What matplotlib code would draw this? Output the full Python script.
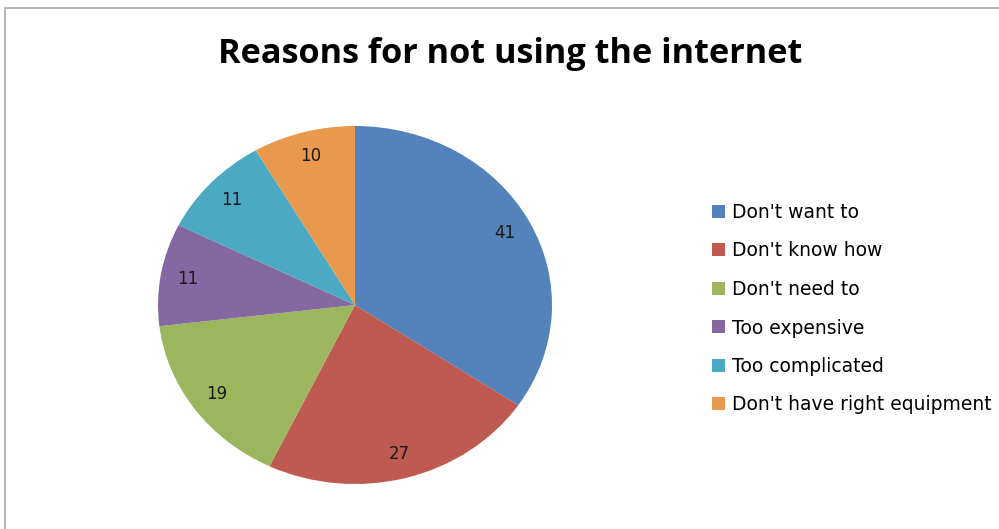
import matplotlib
matplotlib.use("Agg")
import matplotlib.pyplot as plt
from matplotlib.patches import Rectangle, Patch

categories = ["Don't want to", "Don't know how", "Don't need to",
              "Too expensive", "Too complicated", "Don't have right equipment"]
values = [41, 27, 19, 11, 11, 10]
colors = ["#5383BA", "#BE5A52", "#9CB65D", "#8468A1", "#4BA9C3", "#E8994D"]
title = "Reasons for not using the internet"

W, H = 999, 529
fig = plt.figure(figsize=(W / 100, H / 100), dpi=100)
fig.patch.set_facecolor("white")

# chart border (top and left visible)
fig.patches.append(Rectangle((5 / W, -0.1), 1.2, (H - 8) / H + 0.1,
                             transform=fig.transFigure, fill=False,
                             edgecolor="#A8A8A8", linewidth=1.2))

cx, cy, rx, ry = 355, 305, 197, 179
ax = fig.add_axes([(cx - rx) / W, (H - cy - ry) / H, 2 * rx / W, 2 * ry / H])
wedges, texts, autotexts = ax.pie(
    values, colors=colors, startangle=90, counterclock=False,
    autopct=lambda p: f"{round(p * sum(values) / 100):.0f}",
    pctdistance=0.86, wedgeprops=dict(linewidth=0),
    textprops=dict(fontsize=12, color="#1a1a1a", family="DejaVu Sans"))
ax.set_aspect("auto")
ax.set_xlim(-1, 1)
ax.set_ylim(-1, 1)
ax.axis("off")

fig.text(510 / W, 1 - 63 / H, title, ha="center", va="baseline",
         fontsize=24.7, fontweight="bold", family="Open Sans")

handles = [Patch(facecolor=c, edgecolor="none") for c in colors]
leg = fig.legend(handles, categories, loc="upper left",
                 bbox_to_anchor=(712 / W, 1 - 203 / H),
                 frameon=False, prop=dict(family="DejaVu Sans", size=13.5),
                 handlelength=0.68, handleheight=0.68, handletextpad=0.4,
                 labelspacing=1.04, borderaxespad=0, borderpad=0)

fig.savefig("out.png", dpi=100, facecolor="white")
